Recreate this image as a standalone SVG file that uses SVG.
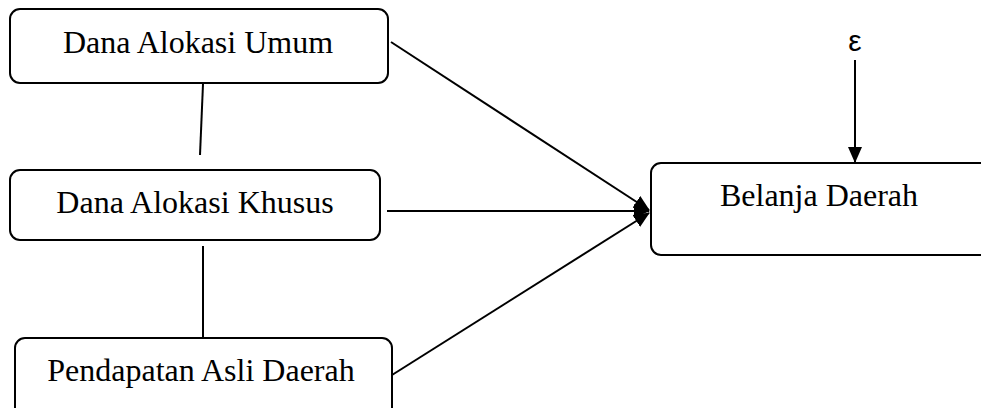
<svg xmlns="http://www.w3.org/2000/svg" width="981" height="408" viewBox="0 0 981 408">
<style>
.box{fill:#fff;stroke:#000;stroke-width:2}
.t{font-family:'Liberation Serif','Times New Roman',serif;font-size:32px;fill:#000;text-anchor:middle}
.ln{stroke:#000;stroke-width:2;fill:none}
</style>
<defs>
<marker id="ah2" markerWidth="16" markerHeight="16" refX="15" refY="8" orient="auto" markerUnits="userSpaceOnUse" viewBox="0 0 16 16">
<path d="M0,1 L16,8 L0,15 z" fill="#000"/>
</marker>
</defs>
<rect width="981" height="408" fill="#fff"/>
<g id="connectors">
<line class="ln" x1="203" y1="84" x2="200" y2="155"/>
<line class="ln" x1="203" y1="246" x2="203" y2="337"/>
<line class="ln" x1="391" y1="42" x2="649" y2="210" marker-end="url(#ah2)"/>
<line class="ln" x1="387" y1="211" x2="649" y2="211" marker-end="url(#ah2)"/>
<line class="ln" x1="392" y1="375" x2="649" y2="213" marker-end="url(#ah2)"/>
<line class="ln" x1="855" y1="60" x2="855" y2="162" marker-end="url(#ah2)"/>
</g>
<g id="dau">
<rect class="box" x="10" y="9" width="378" height="74" rx="10"/>
<text class="t" x="198" y="53">Dana Alokasi Umum</text>
</g>
<g id="dak">
<rect class="box" x="10" y="170" width="370" height="70" rx="10"/>
<text class="t" x="195" y="213">Dana Alokasi Khusus</text>
</g>
<g id="pad">
<rect class="box" x="15" y="338" width="377" height="80" rx="10"/>
<text class="t" x="201" y="381">Pendapatan Asli Daerah</text>
</g>
<g id="bd">
<rect class="box" x="651" y="163" width="340" height="92" rx="10"/>
<text class="t" x="819" y="206">Belanja Daerah</text>
</g>
<g id="epsilon">
<text x="855" y="51" font-family="Liberation Sans, sans-serif" font-size="30" text-anchor="middle">ε</text>
</g>
</svg>
